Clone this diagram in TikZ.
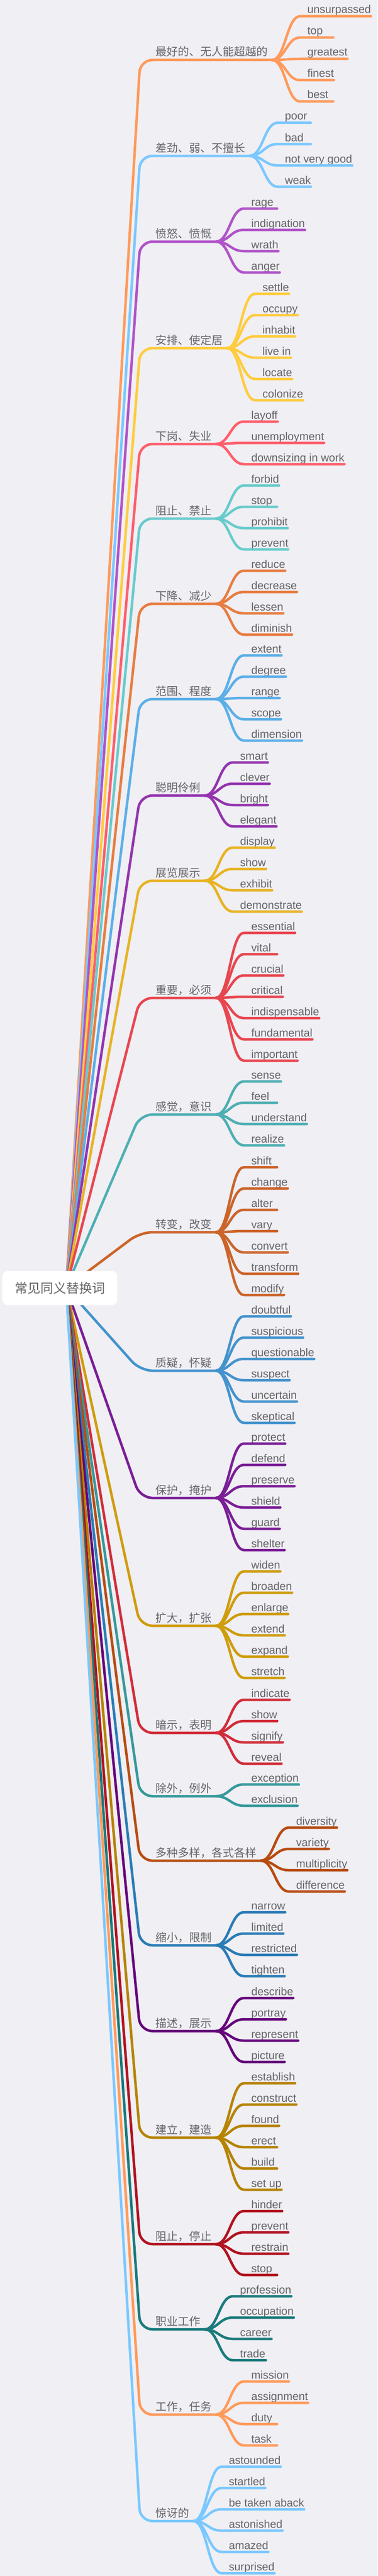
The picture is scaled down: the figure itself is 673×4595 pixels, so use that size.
\documentclass[tikz,border=0pt]{standalone}
\usepackage{fontspec}
\setmainfont{Liberation Sans}
\newfontfamily\cjk{Noto Sans CJK SC}
\definecolor{paper}{RGB}{240,239,244}
\definecolor{ink}{RGB}{100,100,104}
\definecolor{peach}{HTML}{FF9A5A}
\definecolor{sky}{HTML}{7AC8FF}
\definecolor{orchid}{HTML}{B053C8}
\definecolor{sun}{HTML}{FFCC3D}
\definecolor{coral}{HTML}{FF5E6B}
\definecolor{aqua}{HTML}{68CBCB}
\definecolor{tangerine}{HTML}{E77D40}
\definecolor{azure}{HTML}{5BAFE8}
\definecolor{violet}{HTML}{9334AE}
\definecolor{mustard}{HTML}{E8B323}
\definecolor{scarlet}{HTML}{E8464F}
\definecolor{lagoon}{HTML}{4EAFB3}
\definecolor{rust}{HTML}{CC6429}
\definecolor{steel}{HTML}{4393CD}
\definecolor{plum}{HTML}{7A1E96}
\definecolor{ochre}{HTML}{CF9C0A}
\definecolor{crimson}{HTML}{D12D39}
\definecolor{teal}{HTML}{35999B}
\definecolor{umber}{HTML}{B74C11}
\definecolor{cobalt}{HTML}{2A7CB5}
\definecolor{grape}{HTML}{65037A}
\definecolor{bronze}{HTML}{B68300}
\definecolor{ruby}{HTML}{B1121F}
\definecolor{pine}{HTML}{1A7A7C}
\tikzset{
  topic/.style={anchor=base west,inner sep=0pt,outer sep=0pt,text=ink,font=\cjk\fontsize{20pt}{24pt}\selectfont},
  word/.style={anchor=base west,inner sep=0pt,outer sep=0pt,text=ink,font=\fontsize{19.8pt}{24pt}\selectfont},
  stem/.style={line width=4.5pt,line cap=round,rounded corners=22pt},
  twig/.style={line width=4.5pt,line cap=round},
  hub/.style={fill=white,rounded corners=10pt,minimum width=205pt,minimum height=61pt,text=ink,font=\cjk\fontsize{23pt}{28pt}\selectfont}
}
%% one topic: colour, y of its line, number of words, topic, words
\newcommand{\branch}[5]{%
  \coordinate (y#2) at (0,#2);
  \node[topic] (t#2) at (277,#2-7) {#4};
  \path (t#2.east |- y#2) ++(8,0) coordinate (f#2);
  \draw[stem,#1] (hub) -- (250,#2) -- (f#2);
  \foreach \w [count=\i] in {#5} {
    \pgfmathsetmacro\lift{(\i-(#3+1)/2)*38-2}
    \path (f#2) ++(50,\lift) coordinate (s#2-\i);
    \node[word] (w#2-\i) at ([shift={(13,-5)}]s#2-\i) {\w\hspace{9pt}};
    \draw[twig,#1] (f#2) to[out=0,in=180,out distance=24pt,in distance=24pt] (s#2-\i) -- (w#2-\i.east |- s#2-\i) (s#2-\i) -- ++(59,0);
  }%
}
\begin{document}
\begin{tikzpicture}[x=1pt,y=-1pt]
  \useasboundingbox (0,0) rectangle (673,4595);
  \fill[paper] (0,0) rectangle (673,4595);
  \coordinate (hub) at (118,2297);
  %% branches
  \branch{peach}{107}{5}{最好的、无人能超越的}{unsurpassed,top,greatest,finest,best}
  \branch{sky}{278}{4}{差劲、弱、不擅长}{poor,bad,not very good,weak}
  \branch{orchid}{431}{4}{愤怒、愤慨}{rage,indignation,wrath,anger}
  \branch{sun}{621}{6}{安排、使定居}{settle,occupy,inhabit,live in,locate,colonize}
  \branch{coral}{792}{3}{下岗、失业}{layoff,unemployment,downsizing in work}
  \branch{aqua}{925}{4}{阻止、禁止}{forbid,stop,prohibit,prevent}
  \branch{tangerine}{1077}{4}{下降、减少}{reduce,decrease,lessen,diminish}
  \branch{azure}{1247}{5}{范围、程度}{extent,degree,range,scope,dimension}
  \branch{violet}{1419}{4}{聪明伶俐}{smart,clever,bright,elegant}
  \branch{mustard}{1571}{4}{展览展示}{display,show,exhibit,demonstrate}
  \branch{scarlet}{1780}{7}{重要，必须}{essential,vital,crucial,critical,indispensable,fundamental,important}
  \branch{lagoon}{1988}{4}{感觉，意识}{sense,feel,understand,realize}
  \branch{rust}{2198}{7}{转变，改变}{shift,change,alter,vary,convert,transform,modify}
  \branch{steel}{2445}{6}{质疑，怀疑}{doubtful,suspicious,questionable,suspect,uncertain,skeptical}
  \branch{plum}{2672}{6}{保护，掩护}{protect,defend,preserve,shield,guard,shelter}
  \branch{ochre}{2900}{6}{扩大，扩张}{widen,broaden,enlarge,extend,expand,stretch}
  \branch{crimson}{3091}{4}{暗示，表明}{indicate,show,signify,reveal}
  \branch{teal}{3204}{2}{除外，例外}{exception,exclusion}
  \branch{umber}{3319}{4}{多种多样，各式各样}{diversity,variety,multiplicity,difference}
  \branch{cobalt}{3470}{4}{缩小，限制}{narrow,limited,restricted,tighten}
  \branch{grape}{3623}{4}{描述，展示}{describe,portray,represent,picture}
  \branch{bronze}{3813}{6}{建立，建造}{establish,construct,found,erect,build,set up}
  \branch{ruby}{4003}{4}{阻止，停止}{hinder,prevent,restrain,stop}
  \branch{pine}{4155}{4}{职业工作}{profession,occupation,career,trade}
  \branch{peach}{4307}{4}{工作，任务}{mission,assignment,duty,task}
  \branch{sky}{4497}{6}{惊讶的}{astounded,startled,be taken aback,astonished,amazed,surprised}
  %% root
  \node[hub] (root) at (106.5,2297.5) {常见同义替换词};
\end{tikzpicture}
\end{document}
